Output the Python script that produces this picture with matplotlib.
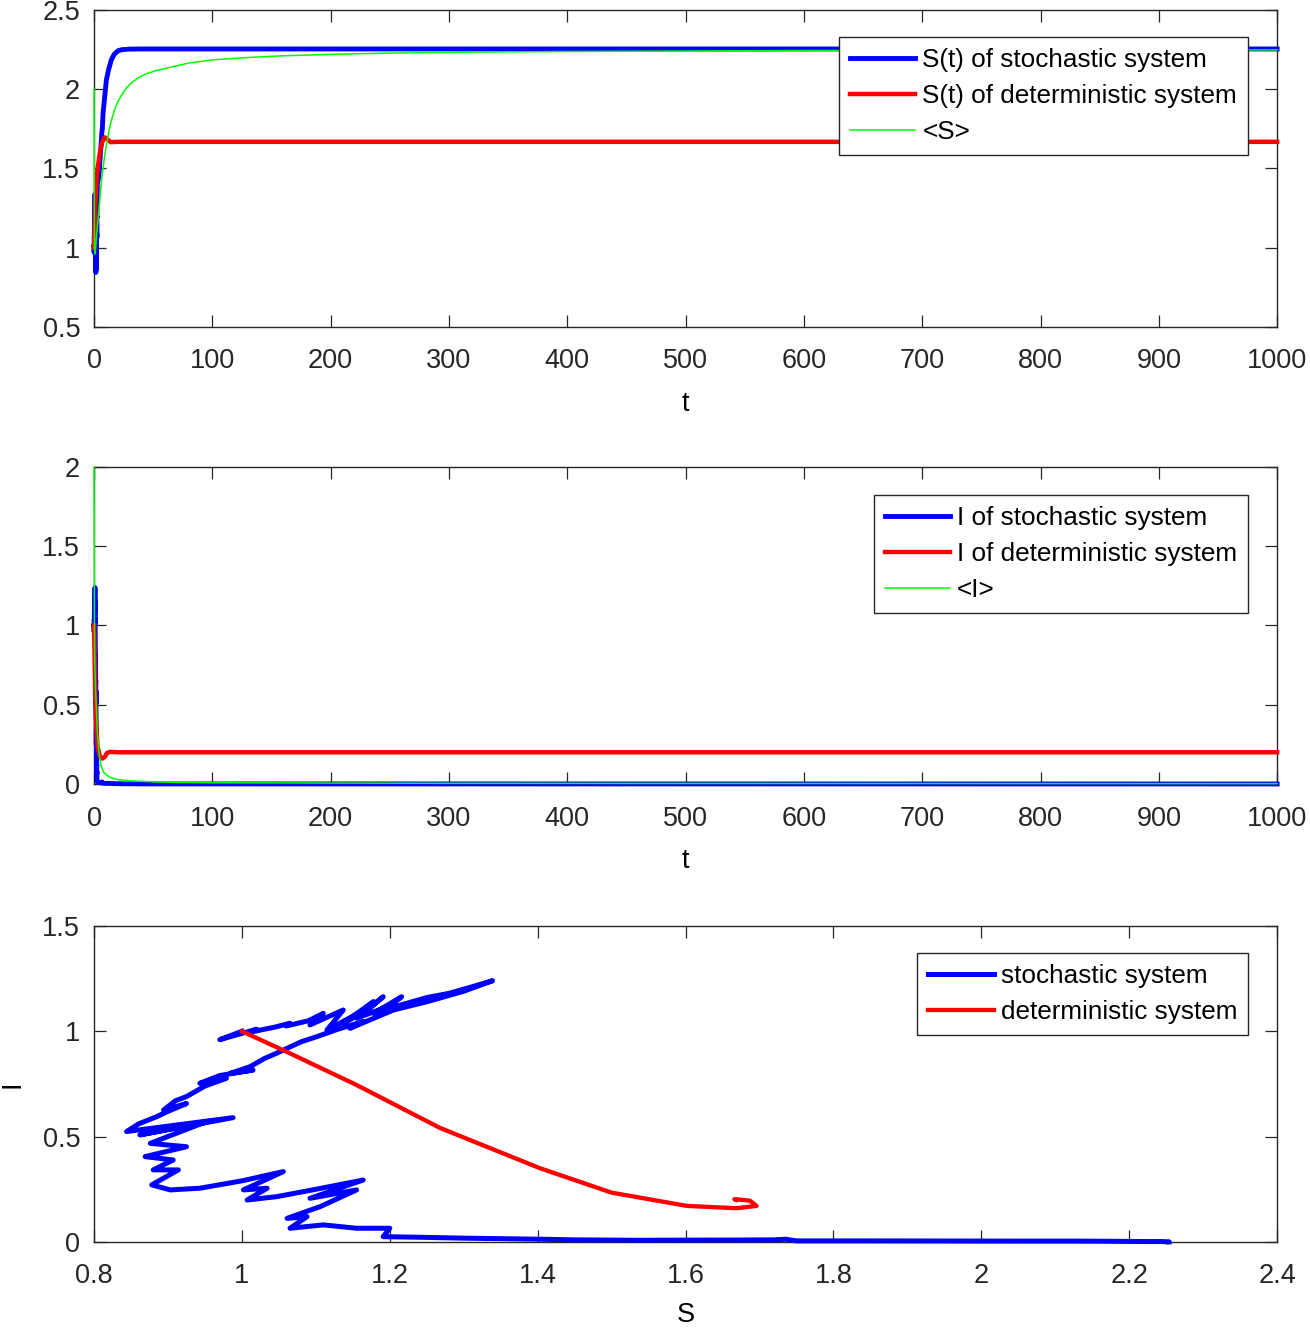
import matplotlib
matplotlib.use('Agg')
import matplotlib.pyplot as plt
from matplotlib.ticker import FuncFormatter, MultipleLocator

plt.rcParams['font.family'] = ['Liberation Sans', 'DejaVu Sans']
plt.rcParams['font.size'] = 19.5

# stochastic system: early zigzag (t < 3) then the slow rise to the steady state
t_sto = [0.00, 0.03, 0.06, 0.09, 0.12, 0.15, 0.18, 0.21, 0.24, 0.27,
         0.30, 0.33, 0.36, 0.39, 0.42, 0.45, 0.48, 0.51, 0.54, 0.57,
         0.60, 0.63, 0.66, 0.69, 0.72, 0.75, 0.78, 0.81, 0.84, 0.87,
         0.90, 0.93, 0.96, 0.99, 1.02, 1.05, 1.08, 1.11, 1.14, 1.17,
         1.20, 1.23, 1.26, 1.29, 1.32, 1.35, 1.38, 1.41, 1.44, 1.47,
         1.50, 1.53, 1.56, 1.59, 1.62, 1.65, 1.68, 1.71, 1.74, 1.77,
         1.80, 1.83, 1.86, 1.89, 1.92, 1.95, 1.98, 2.01, 2.04, 2.07,
         2.10, 2.13, 2.16, 2.19, 2.22, 2.25, 2.28, 2.31, 2.34, 2.37,
         2.40, 2.45, 2.50, 2.60, 2.80,
         4.0, 4.8, 6.0, 6.5, 6.7, 7.0, 7.6, 10.4, 12.5, 14.6, 17, 20.3, 24, 30, 40, 1000]
S_sto = [1.00, 0.97, 0.985, 1.02, 1.01, 1.045, 1.065, 1.06, 1.09, 1.11, 1.092, 1.137, 1.115, 1.16,
         1.178, 1.137, 1.17, 1.191, 1.155, 1.2, 1.216, 1.178, 1.21, 1.25, 1.28, 1.31, 1.339,
         1.30, 1.25, 1.205, 1.146, 1.164, 1.13, 1.101, 1.08, 1.047, 1.03, 1.011, 0.984, 1.015,
         0.97, 0.943, 0.979, 0.95, 0.925, 0.91, 0.894, 0.925, 0.9, 0.885, 0.86, 0.844,
         0.988, 0.862, 0.952, 0.876, 0.925, 0.869, 0.907, 0.880, 0.914, 0.878, 0.903, 0.943,
         1.0, 1.056, 1.002, 1.034, 1.007, 1.047, 1.1, 1.164, 1.092, 1.155, 1.106, 1.061, 1.088,
         1.065, 1.110, 1.155, 1.200, 1.191, 1.245, 1.30, 1.403,
         1.45, 1.53, 1.66, 1.72, 1.735, 1.75, 1.848, 2.058, 2.13, 2.185, 2.22, 2.243, 2.25,
         2.253, 2.254, 2.254]
I_sto = [1.00, 0.96, 0.975, 1.01, 0.995, 1.02, 1.038, 1.025, 1.05, 1.085, 1.03, 1.101, 1.006, 1.09,
         1.141, 1.038, 1.1, 1.164, 1.062, 1.12, 1.164, 1.085, 1.12, 1.16, 1.18, 1.21, 1.240,
         1.19, 1.14, 1.101, 1.014, 1.046, 1.01, 0.974, 0.95, 0.896, 0.87, 0.832, 0.80, 0.816,
         0.79, 0.753, 0.777, 0.74, 0.690, 0.67, 0.626, 0.657, 0.62, 0.595, 0.56, 0.524,
         0.590, 0.508, 0.571, 0.468, 0.452, 0.405, 0.389, 0.342, 0.342, 0.271, 0.247, 0.255,
         0.29, 0.334, 0.247, 0.255, 0.199, 0.215, 0.25, 0.294, 0.207, 0.247, 0.168, 0.112, 0.120,
         0.065, 0.081, 0.065, 0.065, 0.025, 0.022, 0.018, 0.013,
         0.010, 0.008, 0.009, 0.010, 0.013, 0.005, 0.005, 0.004, 0.004, 0.003, 0.002, 0.002, 0.001,
         0.001, 0.0005, 0.0]

# deterministic system
t_det = [0, 0.25, 0.6, 1.0, 2, 3, 5, 7, 9, 11, 14, 20, 1000]
S_det = [1.0, 1.065, 1.155, 1.268, 1.403, 1.5, 1.602, 1.669, 1.696, 1.687, 1.666, 1.668, 1.668]
I_det = [1.0, 0.895, 0.745, 0.541, 0.35, 0.234, 0.171, 0.16, 0.171, 0.196, 0.203, 0.20, 0.20]

# time averages <S>, <I>
t_avgS = [0, 0.3, 0.9, 2.0, 3.4, 4.8, 6.5, 9, 11, 13.2, 15.3, 17.4, 20, 23, 27, 31.6, 37, 42.9, 51.3,
          62.6, 80, 100, 130, 157, 200, 250, 320, 400, 500, 600, 800, 1000]
avg_S = [2.0, 1.0, 0.96, 1.07, 1.18, 1.30, 1.44, 1.58, 1.67, 1.76, 1.82, 1.87, 1.92, 1.96, 2.005, 2.04,
         2.07, 2.094, 2.115, 2.135, 2.165, 2.185, 2.2, 2.21, 2.22, 2.228, 2.234, 2.238, 2.241, 2.244,
         2.246, 2.248]
t_avgI = [0, 0.3, 0.56, 1.2, 2.0, 2.8, 4.2, 6.2, 8, 10.4, 13.5, 17.5, 22, 28.7, 38, 51, 70, 100, 300, 1000]
avg_I = [2.0, 1.0, 0.78, 0.6, 0.467, 0.32, 0.195, 0.109, 0.075, 0.057, 0.042, 0.032, 0.026, 0.021,
         0.017, 0.013, 0.010, 0.008, 0.004, 0.002]

dark = '#262626'
fmt = FuncFormatter(lambda v, p: '%g' % round(v, 6))


def style(ax):
    for sp in ax.spines.values():
        sp.set_color(dark)
        sp.set_linewidth(1.0)
    ax.tick_params(direction='in', length=8.5, width=0.9, colors=dark, top=True, right=True,
                   labelsize=19.5, labelcolor=dark)
    ax.tick_params(axis='x', pad=15.5)
    ax.tick_params(axis='y', pad=10)
    ax.xaxis.set_major_formatter(fmt)
    ax.yaxis.set_major_formatter(fmt)


def legend(ax, top):
    lg = ax.legend(loc='upper right', bbox_to_anchor=(0.9755, top), bbox_transform=ax.transAxes,
                   fancybox=False, framealpha=1, edgecolor=dark, borderaxespad=0,
                   handlelength=2.5, handletextpad=0.27, labelspacing=0.46, borderpad=0.42,
                   fontsize=18.8)
    lg.get_frame().set_linewidth(1.0)


fig = plt.figure(figsize=(13.1, 13.29), dpi=100)
ax1 = fig.add_axes([0.0718, 0.7540, 0.9031, 0.2385])
ax2 = fig.add_axes([0.0718, 0.4101, 0.9031, 0.2385])
ax3 = fig.add_axes([0.0718, 0.0655, 0.9031, 0.2378])

ax1.plot(t_sto, S_sto, color='#0000ff', lw=3.5, label='S(t) of stochastic system', clip_on=False, zorder=3)
ax1.plot(t_det, S_det, color='#ff0000', lw=3.2, label='S(t) of deterministic system', clip_on=False, zorder=3)
ax1.plot(t_avgS, avg_S, color='#00ff00', lw=1.1, label='<S>', clip_on=False, zorder=3)
ax1.set_xlim(0, 1000)
ax1.set_ylim(0.5, 2.5)
ax1.xaxis.set_major_locator(MultipleLocator(100))
ax1.yaxis.set_major_locator(MultipleLocator(0.5))
ax1.set_xlabel('t', labelpad=12)
style(ax1)
legend(ax1, 0.915)

ax2.plot(t_sto, I_sto, color='#0000ff', lw=3.5, label='I of stochastic system', clip_on=False, zorder=3)
ax2.plot(t_det, I_det, color='#ff0000', lw=3.2, label='I of deterministic system', clip_on=False, zorder=3)
ax2.plot(t_avgI, avg_I, color='#00ff00', lw=1.1, label='<I>', clip_on=False, zorder=3)
ax2.set_xlim(0, 1000)
ax2.set_ylim(0, 2)
ax2.xaxis.set_major_locator(MultipleLocator(100))
ax2.yaxis.set_major_locator(MultipleLocator(0.5))
ax2.set_xlabel('t', labelpad=12)
style(ax2)
legend(ax2, 0.9117)

ax3.plot(S_sto, I_sto, color='#0000ff', lw=3.6, label='stochastic system', clip_on=False, zorder=3)
ax3.plot(S_det, I_det, color='#ff0000', lw=3.1, label='deterministic system', clip_on=False, zorder=3)
ax3.set_xlim(0.8, 2.4)
ax3.set_ylim(0, 1.5)
ax3.xaxis.set_major_locator(MultipleLocator(0.2))
ax3.yaxis.set_major_locator(MultipleLocator(0.5))
ax3.set_xlabel('S', labelpad=9)
ax3.set_ylabel('I', labelpad=12)
style(ax3)
legend(ax3, 0.9146)

fig.savefig('out.png', dpi=100)
